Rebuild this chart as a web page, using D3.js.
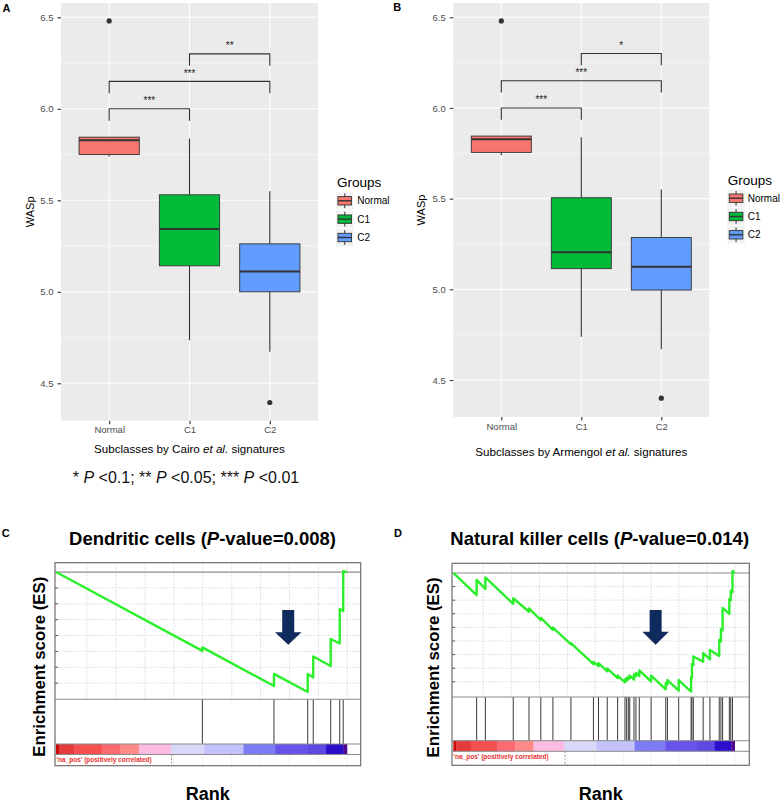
<!DOCTYPE html>
<html><head><meta charset="utf-8">
<script src="https://cdn.jsdelivr.net/npm/d3@7"></script>
<style>body{margin:0;background:#fff}svg{display:block}</style>
</head><body>
<svg id="fig" width="780" height="803"></svg>
<script>
// ---------------- DATA ----------------
const categories = ["Normal", "C1", "C2"];
const groupColors = ["#F8766D", "#00BA38", "#619CFF"];
const yTicks = [4.5, 5.0, 5.5, 6.0, 6.5];
const yMinorTicks = [4.75, 5.25, 5.75, 6.25];

// Panel A (Cairo et al.)
const aLower   = [5.740, 4.735, 4.672];
const aQ1      = [5.750, 5.142, 5.000];
const aMedian  = [5.828, 5.343, 5.111];
const aQ3      = [5.845, 5.530, 5.262];
const aUpper   = [5.845, 5.838, 5.550];
const aOutliers = [[6.48], [], [4.395]];
const aSigLabels = ["***", "***", "**"];

// Panel B (Armengol et al.)
const bLower   = [5.740, 4.739, 4.670];
const bQ1      = [5.755, 5.114, 4.996];
const bMedian  = [5.828, 5.205, 5.124];
const bQ3      = [5.845, 5.505, 5.286];
const bUpper   = [5.845, 5.839, 5.551];
const bOutliers = [[6.48], [], [4.40]];
const bSigLabels = ["***", "***", "*"];

const sigPairs  = [["Normal", "C1"], ["Normal", "C2"], ["C1", "C2"]];
const sigLevels = [6.00, 6.15, 6.30];

// GSEA C: Dendritic cells
const cHitRanks = [50.3, 74.9, 86.5, 88.4, 94.4, 97.5, 98.7];
const cCurveRank = [0, 50.3, 50.3, 74.9, 74.9, 86.5, 86.5, 88.4, 88.4, 94.4, 94.4, 97.5, 97.5, 98.7, 98.7, 100];
const cCurveES   = [0, -0.497, -0.475, -0.718, -0.642, -0.756, -0.642, -0.664, -0.532, -0.592, -0.422, -0.450, -0.233, -0.246, 0.006, 0];
const cESGrid = [-0.1, -0.2, -0.3, -0.4, -0.5, -0.6, -0.7];

// GSEA D: Natural killer cells
const dHitRanks = [8.3, 11.4, 21.3, 26.9, 31.1, 35.4, 41.8, 49.8, 51.6, 54.7, 58.4, 61.0, 61.6, 62.2, 62.7, 64.2, 64.9, 66.1, 70.3, 75.5, 76.1, 80.1, 84.5, 84.8, 85.3, 88.8, 91.2, 94.5, 95.1, 95.7, 98.1, 98.6, 99.2];
const dCurveRank = [0, 8.3, 8.3, 11.4, 11.4, 21.3, 21.3, 26.9, 26.9, 31.1, 31.1, 35.4, 35.4, 41.8, 41.8, 49.8, 49.8, 51.6, 51.6, 54.7, 54.7, 58.4, 58.4, 61.0, 61.0, 61.6, 61.6, 62.2, 62.2, 62.7, 62.7, 64.2, 64.2, 64.9, 64.9, 66.1, 66.1, 70.3, 70.3, 75.5, 75.5, 76.1, 76.1, 80.1, 80.1, 84.5, 84.5, 84.8, 84.8, 85.3, 85.3, 88.8, 88.8, 91.2, 91.2, 94.5, 94.5, 95.1, 95.1, 95.7, 95.7, 98.1, 98.1, 98.6, 98.6, 99.2, 99.2, 100];
const dCurveES   = [0, -0.162, -0.051, -0.118, -0.032, -0.228, -0.186, -0.285, -0.260, -0.346, -0.329, -0.419, -0.401, -0.525, -0.515, -0.671, -0.654, -0.685, -0.662, -0.723, -0.702, -0.774, -0.754, -0.804, -0.783, -0.793, -0.772, -0.782, -0.765, -0.774, -0.754, -0.784, -0.746, -0.760, -0.735, -0.758, -0.717, -0.798, -0.754, -0.855, -0.809, -0.820, -0.787, -0.865, -0.787, -0.872, -0.765, -0.772, -0.669, -0.678, -0.614, -0.652, -0.590, -0.635, -0.566, -0.610, -0.493, -0.504, -0.412, -0.423, -0.257, -0.301, -0.191, -0.201, -0.130, -0.141, 0.015, 0];
const dESGrid = [-0.1, -0.2, -0.3, -0.4, -0.5, -0.6, -0.7, -0.8];

const gridRanks = [10.6, 20.6, 30.6, 40.5, 50.4, 60.4, 70.3, 80.2, 90.2, 100.1];
const rankBins = [0, 1.0, 6.2, 15.7, 22.0, 28.5, 39.5, 50.9, 64.4, 75.3, 86.6, 92.8, 98.8, 100];
const binColors = ["#c80a0a", "#e43c3c", "#f45050", "#fc6a72", "#ff8a8a", "#fbbbe3", "#d8d8f8", "#c4c2fa", "#7c7cf4", "#6654ea", "#5c4ae2", "#2c0fca", "#500a90"];
const zeroCrossRank = 39.7;

// ---------------- DRAWING ----------------
const svg = d3.select("#fig");
const FONT = "'Liberation Sans', Arial, Helvetica, sans-serif";

function boxPanel(p) {
  const g = svg.append("g");
  const y = d3.scaleLinear().domain([4.5, 6.5]).range([p.y45, p.y65]);
  const u = (p.right - p.left) / 3.2;
  const x = d3.scalePoint().domain(categories).range([p.left + 0.6 * u, p.right - 0.6 * u]);
  const bw = 0.75 * u;

  g.append("rect").attr("x", p.left).attr("y", p.top)
    .attr("width", p.right - p.left).attr("height", p.bottom - p.top).attr("fill", "#EBEBEB");
  g.selectAll(".mn").data(yMinorTicks).join("line")
    .attr("x1", p.left).attr("x2", p.right).attr("y1", d => y(d)).attr("y2", d => y(d))
    .attr("stroke", "#fff").attr("stroke-width", 0.55);
  g.selectAll(".mj").data(yTicks).join("line")
    .attr("x1", p.left).attr("x2", p.right).attr("y1", d => y(d)).attr("y2", d => y(d))
    .attr("stroke", "#fff").attr("stroke-width", 1.1);
  g.selectAll(".vx").data(categories).join("line")
    .attr("x1", d => x(d)).attr("x2", d => x(d)).attr("y1", p.top).attr("y2", p.bottom)
    .attr("stroke", "#fff").attr("stroke-width", 1.1);

  categories.forEach((c, i) => {
    const cx = x(c);
    g.append("line").attr("x1", cx).attr("x2", cx).attr("y1", y(p.upper[i])).attr("y2", y(p.q3[i]))
      .attr("stroke", "#333").attr("stroke-width", 1.1);
    g.append("line").attr("x1", cx).attr("x2", cx).attr("y1", y(p.q1[i])).attr("y2", y(p.lower[i]))
      .attr("stroke", "#333").attr("stroke-width", 1.1);
    g.append("rect").attr("x", cx - bw / 2).attr("y", y(p.q3[i]))
      .attr("width", bw).attr("height", y(p.q1[i]) - y(p.q3[i]))
      .attr("fill", groupColors[i]).attr("stroke", "#333").attr("stroke-width", 0.9);
    g.append("line").attr("x1", cx - bw / 2).attr("x2", cx + bw / 2)
      .attr("y1", y(p.median[i])).attr("y2", y(p.median[i]))
      .attr("stroke", "#333").attr("stroke-width", 2);
    g.selectAll(null).data(p.outliers[i]).join("circle")
      .attr("cx", cx).attr("cy", d => y(d)).attr("r", 2.6).attr("fill", "#333");
  });

  sigPairs.forEach((pair, k) => {
    const xa = x(pair[0]), xb = x(pair[1]);
    const yy = y(sigLevels[k]), yt = y(sigLevels[k] - 0.065);
    g.append("path").attr("d", `M${xa},${yt}V${yy}H${xb}V${yt}`)
      .attr("fill", "none").attr("stroke", "#333").attr("stroke-width", 1.1);
    g.append("text").attr("x", (xa + xb) / 2).attr("y", yy - 4.5).attr("text-anchor", "middle")
      .attr("font-family", FONT).attr("font-size", 10).attr("fill", "#222").text(p.sig[k]);
  });

  const ya = g.append("g").attr("transform", `translate(${p.left},0)`)
    .call(d3.axisLeft(y).tickValues(yTicks).tickFormat(d3.format(".1f")).tickSize(3.5).tickPadding(4));
  ya.attr("font-family", FONT).attr("font-size", 9.5);
  ya.select(".domain").remove();
  ya.selectAll("line").attr("stroke", "#333").attr("stroke-width", 1.1);
  ya.selectAll("text").attr("fill", "#4D4D4D");

  const xa = g.append("g").attr("transform", `translate(0,${p.bottom})`)
    .call(d3.axisBottom(x).tickSize(3.5).tickPadding(p.xPad));
  xa.attr("font-family", FONT).attr("font-size", 9.5);
  xa.select(".domain").remove();
  xa.selectAll("line").attr("stroke", "#333").attr("stroke-width", 1.1);
  xa.selectAll("text").attr("fill", "#4D4D4D");

  const xt = g.append("text").attr("x", (p.left + p.right) / 2).attr("y", p.xTitleY)
    .attr("text-anchor", "middle").attr("font-family", FONT).attr("font-size", 11.6).attr("fill", "#000");
  xt.append("tspan").text(p.xTitle[0]);
  xt.append("tspan").attr("font-style", "italic").text(p.xTitle[1]);
  xt.append("tspan").text(p.xTitle[2]);

  g.append("text").attr("transform", `translate(${p.yTitleX},${(p.top + p.bottom) / 2}) rotate(-90)`)
    .attr("dy", "0.35em").attr("text-anchor", "middle").attr("font-family", FONT)
    .attr("font-size", 11).attr("fill", "#000").text("WASp");

  // legend
  g.append("text").attr("x", p.legX).attr("y", p.legTitleY).attr("font-family", FONT)
    .attr("font-size", 13.5).attr("fill", "#000").text("Groups");
  categories.forEach((c, i) => {
    const cy = p.keyY0 + i * p.keyStep, kx = p.keyX, ks = 17.5;
    g.append("rect").attr("x", kx).attr("y", cy - ks / 2).attr("width", ks).attr("height", ks).attr("fill", "#F2F2F2");
    g.append("line").attr("x1", kx + ks / 2).attr("x2", kx + ks / 2).attr("y1", cy - ks * 0.42).attr("y2", cy + ks * 0.42)
      .attr("stroke", "#333").attr("stroke-width", 1);
    g.append("rect").attr("x", kx + ks * 0.11).attr("y", cy - ks * 0.24).attr("width", ks * 0.78).attr("height", ks * 0.48)
      .attr("fill", groupColors[i]).attr("stroke", "#333").attr("stroke-width", 0.9);
    g.append("line").attr("x1", kx + ks * 0.11).attr("x2", kx + ks * 0.89).attr("y1", cy).attr("y2", cy)
      .attr("stroke", "#333").attr("stroke-width", 1.4);
    g.append("text").attr("x", p.labX).attr("y", cy + 3.6).attr("font-family", FONT)
      .attr("font-size", 10).attr("fill", "#000").text(c);
  });
}

boxPanel({
  left: 61, right: 318, top: 3, bottom: 420.7, y65: 17.3, y45: 383.3,
  lower: aLower, q1: aQ1, median: aMedian, q3: aQ3, upper: aUpper, outliers: aOutliers, sig: aSigLabels,
  xPad: 2.4, xTitleY: 452.7, xTitle: ["Subclasses by Cairo ", "et al.", " signatures"], yTitleX: 30.5,
  legX: 337, legTitleY: 187.3, keyX: 336, keyY0: 200.8, keyStep: 18.35, labX: 357.3
});
boxPanel({
  left: 453.3, right: 709.3, top: 3, bottom: 417, y65: 17.3, y45: 380,
  lower: bLower, q1: bQ1, median: bMedian, q3: bQ3, upper: bUpper, outliers: bOutliers, sig: bSigLabels,
  xPad: 2.8, xTitleY: 455.7, xTitle: ["Subclasses by Armengol ", "et al.", " signatures"], yTitleX: 421.3,
  legX: 727.7, legTitleY: 185, keyX: 727.3, keyY0: 198.2, keyStep: 18.3, labX: 747.7
});

// p-value legend
(function () {
  const t = svg.append("text").attr("x", 186).attr("y", 483.3).attr("text-anchor", "middle")
    .attr("font-family", FONT).attr("font-size", 16).attr("fill", "#111");
  const parts = [["* ", 0], ["P", 1], [" <0.1; ** ", 0], ["P", 1], [" <0.05; *** ", 0], ["P", 1], [" <0.01", 0]];
  parts.forEach(([s, it]) => { const ts = t.append("tspan").text(s); if (it) ts.attr("font-style", "italic"); });
})();

// panel letters
[["A", 2.5, 11.5], ["B", 393.3, 11], ["C", 1.7, 537.3], ["D", 394, 537.3]].forEach(([l, x, y]) => {
  svg.append("text").attr("x", x).attr("y", y).attr("font-family", FONT).attr("font-weight", "bold")
    .attr("font-size", 11).attr("fill", "#000").text(l);
});

function gseaPanel(p) {
  const g = svg.append("g");
  const x = d3.scaleLinear().domain([0, 100]).range(p.rankRange);
  const y = d3.scaleLinear().domain(p.esDomain).range([p.top, p.esBottom]);

  // gridlines
  g.selectAll(".vg").data(gridRanks.filter(r => x(r) < p.x1 - 1)).join("line")
    .attr("x1", d => x(d)).attr("x2", d => x(d)).attr("y1", p.top).attr("y2", p.esBottom)
    .attr("stroke", "#cfcfcf").attr("stroke-width", 0.8).attr("stroke-dasharray", "1.5,1.5");
  g.selectAll(".hg").data(p.esGrid).join("line")
    .attr("x1", p.x0).attr("x2", p.x1).attr("y1", d => y(d)).attr("y2", d => y(d))
    .attr("stroke", "#cfcfcf").attr("stroke-width", 0.8).attr("stroke-dasharray", "1.5,1.5");
  g.selectAll(".lt").data(p.esGrid).join("line")
    .attr("x1", p.x0).attr("x2", p.x0 + 3).attr("y1", d => y(d)).attr("y2", d => y(d))
    .attr("stroke", "#555").attr("stroke-width", 1);
  g.selectAll(".bg").data(gridRanks.filter(r => x(r) < p.x1 - 1)).join("line")
    .attr("x1", d => x(d)).attr("x2", d => x(d)).attr("y1", p.barBottom).attr("y2", p.bottom)
    .attr("stroke", "#dcdcdc").attr("stroke-width", 0.8).attr("stroke-dasharray", "1.5,1.5");
  g.append("line").attr("x1", x(zeroCrossRank)).attr("x2", x(zeroCrossRank)).attr("y1", p.barBottom).attr("y2", p.bottom)
    .attr("stroke", "#999").attr("stroke-width", 1).attr("stroke-dasharray", "2,1.5");

  // zero line
  g.append("line").attr("x1", p.x0).attr("x2", p.x1).attr("y1", y(0)).attr("y2", y(0))
    .attr("stroke", "#8c8c8c").attr("stroke-width", 1.2);

  // colour bar
  g.selectAll(".cb").data(binColors).join("rect")
    .attr("x", (d, i) => x(rankBins[i])).attr("width", (d, i) => x(rankBins[i + 1]) - x(rankBins[i]) + 0.3)
    .attr("y", p.barTop).attr("height", p.barBottom - p.barTop).attr("fill", d => d);

  // hits
  g.selectAll(".hit").data(p.hits).join("line")
    .attr("x1", d => x(d)).attr("x2", d => x(d)).attr("y1", p.esBottom).attr("y2", p.barTop)
    .attr("stroke", "#3a3a3a").attr("stroke-width", 1);

  // separators
  [p.esBottom, p.barTop, p.barBottom].forEach(yy => {
    g.append("line").attr("x1", p.x0).attr("x2", p.x1).attr("y1", yy).attr("y2", yy)
      .attr("stroke", "#8c8c8c").attr("stroke-width", 1);
  });
  g.append("rect").attr("x", p.x0).attr("y", p.top).attr("width", p.x1 - p.x0).attr("height", p.bottom - p.top)
    .attr("fill", "none").attr("stroke", "#6e6e6e").attr("stroke-width", 1.2);

  // running ES curve
  const line = d3.line().x(i => x(p.curveRank[i])).y(i => y(p.curveES[i]));
  g.append("path").attr("d", line(d3.range(p.curveRank.length)))
    .attr("fill", "none").attr("stroke", "#2cef2c").attr("stroke-width", 2.4).attr("stroke-linejoin", "round");

  // arrow
  const ax = x(p.arrow.rank), sw = 6, hw = 13.2;
  const yT = y(p.arrow.top), yH = y(p.arrow.head), yP = y(p.arrow.tip);
  g.append("polygon")
    .attr("points", [[ax - sw, yT], [ax + sw, yT], [ax + sw, yH], [ax + hw, yH], [ax, yP], [ax - hw, yH], [ax - sw, yH]].map(d => d.join(",")).join(" "))
    .attr("fill", "#0f2a5c");

  // texts
  g.append("text").attr("x", p.x0 + 1.5).attr("y", p.naY).attr("font-family", FONT).attr("font-weight", "bold")
    .attr("font-size", 6.5).attr("fill", "#e8322e").text("'na_pos' (positively correlated)");
  const t = g.append("text").attr("x", p.titleX).attr("y", 545).attr("text-anchor", "middle")
    .attr("font-family", FONT).attr("font-weight", "bold").attr("font-size", 18.5).attr("fill", "#000");
  t.append("tspan").text(p.title + " (");
  t.append("tspan").attr("font-style", "italic").text("P");
  t.append("tspan").text("-value=" + p.pval + ")");
  g.append("text").attr("transform", `translate(${p.yTitleX},${p.yTitleY}) rotate(-90)`)
    .attr("dy", "0.35em").attr("text-anchor", "middle").attr("font-family", FONT).attr("font-weight", "bold")
    .attr("font-size", 16.8).attr("fill", "#000").text("Enrichment score (ES)");
  g.append("text").attr("x", p.rankX).attr("y", 800).attr("text-anchor", "middle")
    .attr("font-family", FONT).attr("font-weight", "bold").attr("font-size", 18).attr("fill", "#000").text("Rank");
}

gseaPanel({
  x0: 55, x1: 360.7, top: 562.7, esBottom: 699.3, barTop: 744, barBottom: 754.5, bottom: 765.7,
  rankRange: [56, 347], esDomain: [0.059, -0.802], esGrid: cESGrid,
  hits: cHitRanks, curveRank: cCurveRank, curveES: cCurveES,
  arrow: { rank: 79.8, top: -0.239, head: -0.380, tip: -0.458 },
  naY: 761.5, title: "Dendritic cells", pval: "0.008", titleX: 202.5,
  yTitleX: 39, yTitleY: 666.7, rankX: 207.8
});
gseaPanel({
  x0: 452, x1: 749.3, top: 563.3, esBottom: 697, barTop: 740.7, barBottom: 751.3, bottom: 765.3,
  rankRange: [453.3, 734.7], esDomain: [0.0713, -0.912], esGrid: dESGrid,
  hits: dHitRanks, curveRank: dCurveRank, curveES: dCurveES,
  arrow: { rank: 71.9, top: -0.272, head: -0.432, tip: -0.527 },
  naY: 759.3, title: "Natural killer cells", pval: "0.014", titleX: 599.7,
  yTitleX: 433, yTitleY: 667.5, rankX: 600.8
});
</script>
</body></html>
